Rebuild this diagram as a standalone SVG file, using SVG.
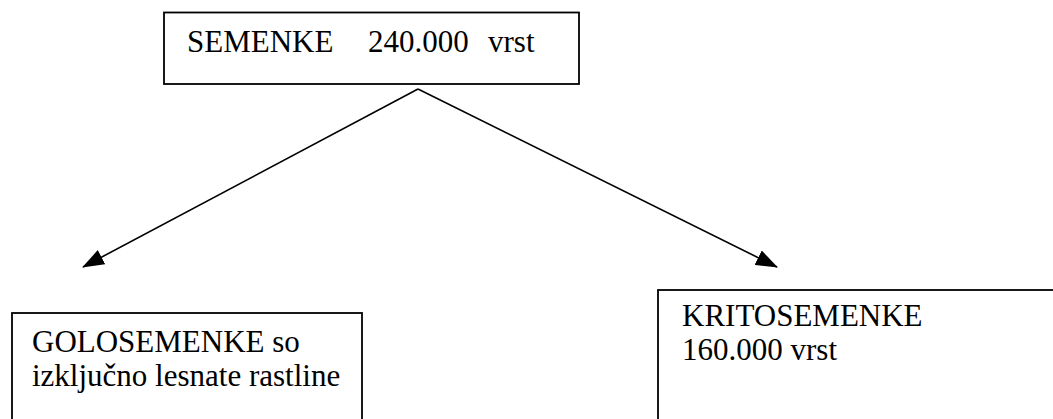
<svg xmlns="http://www.w3.org/2000/svg" width="1053" height="419" viewBox="0 0 1053 419">
<defs>
<style>
.box{fill:#fff;stroke:#000;stroke-width:1.8}
.t{font-family:"Liberation Serif","Times New Roman",serif;font-size:31px;fill:#000}
.c{stroke:#000;stroke-width:1.6;fill:none}
</style>
<marker id="ah" markerUnits="userSpaceOnUse" markerWidth="22" markerHeight="16" viewBox="0 0 22 16" refX="21" refY="8" orient="auto">
<path d="M0,0 L22,8 L0,16 Z" fill="#000"/>
</marker>
</defs>
<rect width="1053" height="419" fill="#fff"/>
<g id="connectors">
<line class="c" x1="418" y1="89" x2="83" y2="267" marker-end="url(#ah)"/>
<line class="c" x1="418" y1="89" x2="777" y2="267" marker-end="url(#ah)"/>
</g>
<g id="semenke">
<rect class="box" x="164" y="12.5" width="415" height="71.5"/>
<text class="t" x="187" y="52">SEMENKE</text>
<text class="t" x="368" y="52">240.000</text>
<text class="t" x="488" y="52">vrst</text>
</g>
<g id="golosemenke">
<rect class="box" x="12" y="313" width="350" height="120"/>
<text class="t" x="32" y="352">GOLOSEMENKE so</text>
<text class="t" x="32" y="386">izključno lesnate rastline</text>
</g>
<g id="kritosemenke">
<rect class="box" x="658" y="290" width="410" height="140"/>
<text class="t" x="682" y="326">KRITOSEMENKE</text>
<text class="t" x="682" y="360">160.000 vrst</text>
</g>
</svg>
